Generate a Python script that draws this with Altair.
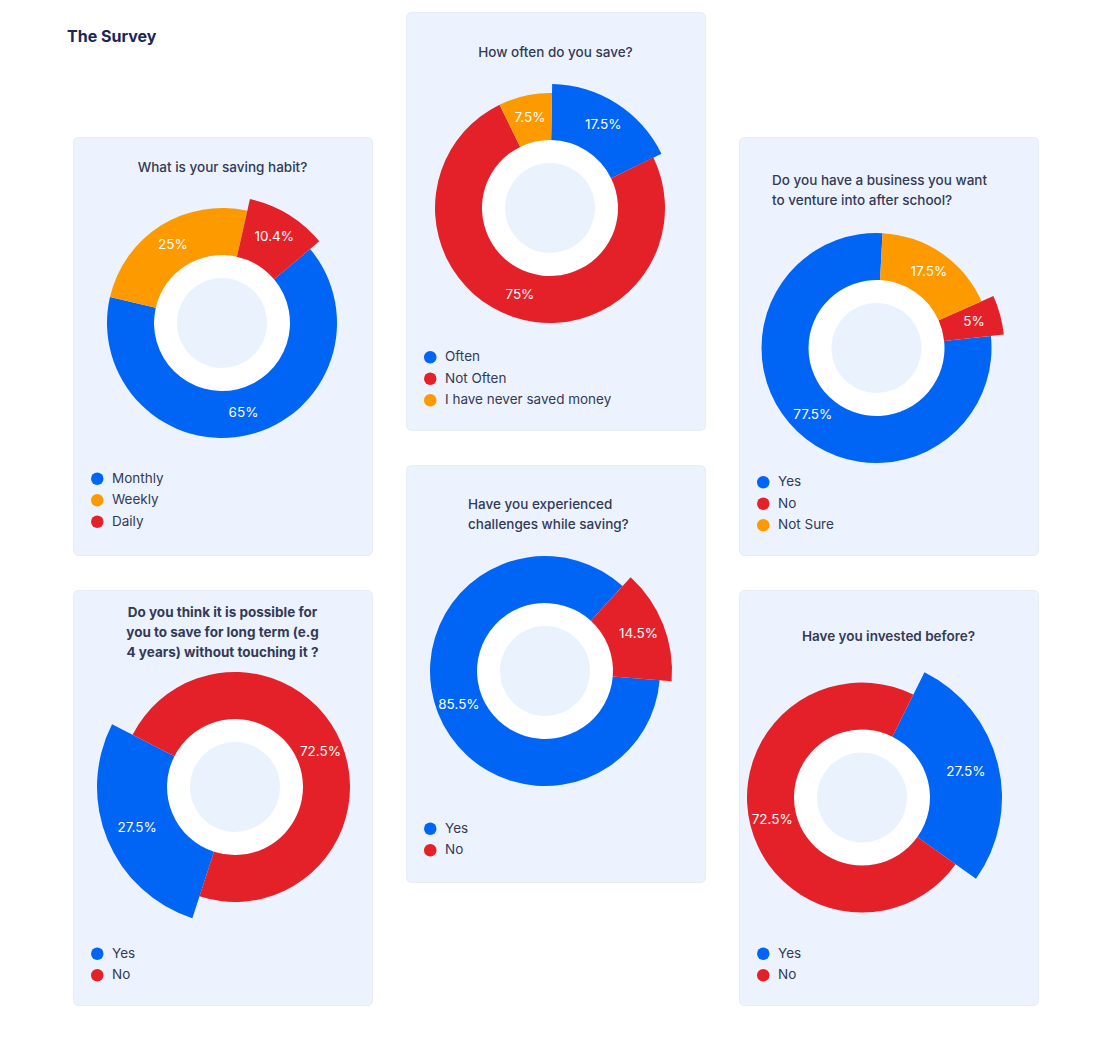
import math
import altair as alt
import pandas as pd

FONT = "Inter"
BLUE = "#0064f4"
RED = "#e42129"
ORANGE = "#fd9a00"
CARD = "#ecf3fe"
CENTER = "#eaf2fe"
INK = "#333a56"

PAGE_TITLE = "The Survey"

Q1_TITLE = "What is your saving habit?"
Q1_CATS = ["Monthly", "Weekly", "Daily"]
Q1_VALS = [65, 25, 10.4]

Q2_TITLE = "How often do you save?"
Q2_CATS = ["Often", "Not Often", "I have never saved money"]
Q2_VALS = [17.5, 75, 7.5]

Q3_TITLE = "Do you have a business you want\nto venture into after school?"
Q3_CATS = ["Yes", "No", "Not Sure"]
Q3_VALS = [77.5, 5, 17.5]

Q4_TITLE = "Do you think it is possible for\nyou to save for long term (e.g\n4 years) without touching it ?"
Q4_CATS = ["Yes", "No"]
Q4_VALS = [27.5, 72.5]

Q5_TITLE = "Have you experienced\nchallenges while saving?"
Q5_CATS = ["Yes", "No"]
Q5_VALS = [85.5, 14.5]

Q6_TITLE = "Have you invested before?"
Q6_CATS = ["Yes", "No"]
Q6_VALS = [27.5, 72.5]

W = 299
R_IN = 68
R_OUT = 115
FS = 13.5


def card(title, cats, vals, colors, explode, start_deg, cx, cy, r_exp,
         title_x, title_y, title_align, title_weight, legend_y, height,
         arc_order=None):
    order = arc_order or cats
    df = pd.DataFrame({
        "cat": cats,
        "v": vals,
        "o": [order.index(c) for c in cats],
        "label": [f"{v:g}%" for v in vals],
    })
    s = math.radians(start_deg)
    tscale = alt.Scale(domain=[0, 1], range=[s, s + 2 * math.pi])
    color = alt.Color(
        "cat:N",
        scale=alt.Scale(domain=cats, range=colors),
        legend=alt.Legend(
            title=None, orient="none", legendX=17.5, legendY=legend_y,
            symbolType="circle", symbolSize=156, symbolStrokeWidth=0,
            symbolOpacity=1, labelFont=FONT, labelFontSize=FS,
            labelColor=INK, rowPadding=6.5, padding=0, labelOffset=8,
            labelLimit=400,
        ),
    )
    t_exp = (R_IN + r_exp) / 2 + 3
    t_norm = (R_IN + R_OUT) / 2 + 1
    base = alt.Chart(df).transform_joinaggregate(
        tot="sum(v)"
    ).transform_window(
        cum="sum(v)", sort=[alt.SortField("o")]
    ).transform_calculate(
        f0="(datum.cum - datum.v) / datum.tot",
        f1="datum.cum / datum.tot",
        fm="(datum.cum - datum.v / 2) / datum.tot",
        r=f"datum.cat === '{explode}' ? {r_exp} : {R_OUT}",
        tr=f"datum.cat === '{explode}' ? {t_exp} : {t_norm}",
    )
    arcs = base.mark_arc(innerRadius=R_IN).encode(
        theta=alt.Theta("f0:Q", scale=tscale, stack=False),
        theta2="f1:Q",
        color=color,
        radius=alt.Radius("r:Q", scale=None),
        x=alt.value(cx),
        y=alt.value(cy),
    )
    labels = base.mark_text(font=FONT, fontSize=FS, color="white").encode(
        theta=alt.Theta("fm:Q", scale=tscale, stack=False),
        text="label:N",
        radius=alt.Radius("tr:Q", scale=None),
        x=alt.value(cx),
        y=alt.value(cy),
    )
    one = alt.Chart(alt.Data(values=[{"k": 1}]))
    white = one.mark_circle(size=(2 * R_IN) ** 2, color="white", opacity=1).encode(
        x=alt.value(cx), y=alt.value(cy))
    center = one.mark_circle(size=90 ** 2, color=CENTER, opacity=1).encode(
        x=alt.value(cx), y=alt.value(cy))
    ttl = one.mark_text(
        font=FONT, fontSize=FS, fontWeight=title_weight, color=INK,
        align=title_align, baseline="top", lineBreak="\n", lineHeight=20,
    ).encode(x=alt.value(title_x), y=alt.value(title_y), text=alt.value(title))
    return alt.layer(white, center, arcs, labels, ttl).properties(
        width=W, height=height,
        view=alt.ViewBackground(fill=CARD, cornerRadius=5, stroke="#e8ecf3",
                                strokeWidth=1),
    )


c1 = card(Q1_TITLE, Q1_CATS, Q1_VALS, [BLUE, ORANGE, RED], "Daily", 50,
          149, 186, 127, W / 2, 24, "center", 500, 335, 418)
c2 = card(Q2_TITLE, Q2_CATS, Q2_VALS, [BLUE, RED, ORANGE], "Often", 1,
          144, 196, 124, W / 2, 34, "center", 500, 338.5, 418)
c3 = card(Q3_TITLE, Q3_CATS, Q3_VALS, [BLUE, RED, ORANGE], "No", 84,
          137.5, 211, 128, 33, 37, "left", 500, 338.5, 418,
          arc_order=["Yes", "Not Sure", "No"])
c4 = card(Q4_TITLE, Q4_CATS, Q4_VALS, [BLUE, RED], "Yes", 198,
          162, 197, 138, W / 2, 16, "center", 700, 357, 415)
c5 = card(Q5_TITLE, Q5_CATS, Q5_VALS, [BLUE, RED], "No", 94.6,
          139, 206, 127, 62, 33, "left", 500, 357, 417)
c6 = card(Q6_TITLE, Q6_CATS, Q6_VALS, [BLUE, RED], "Yes", 26.5,
          123, 207.5, 140, W / 2, 40, "center", 600, 357, 415)

one = alt.Chart(alt.Data(values=[{"k": 1}]))
head = one.mark_text(font=FONT, fontSize=16, fontWeight="bold", color="#1c2656",
                     align="left", baseline="middle").encode(
    x=alt.value(-6), y=alt.value(25), text=alt.value(PAGE_TITLE)
).properties(width=W, height=90)
blank = one.mark_text(text=" ", baseline="middle").encode(
    x=alt.value(100), y=alt.value(45)).properties(width=W, height=90)


def col(*charts):
    return alt.vconcat(*charts, spacing=33).resolve_scale(
        color="independent", theta="independent").resolve_legend(color="independent")


chart = alt.hconcat(col(head, c1, c4), col(c2, c5), col(blank, c3, c6), spacing=32)
chart = chart.resolve_scale(color="independent", theta="independent").resolve_legend(
    color="independent").properties(
    padding={"left": 66, "top": 11, "right": 5, "bottom": 5},
    background="white",
).configure_view(stroke="transparent")

chart.save("out.html", embed_options={"renderer": "svg", "actions": False})
